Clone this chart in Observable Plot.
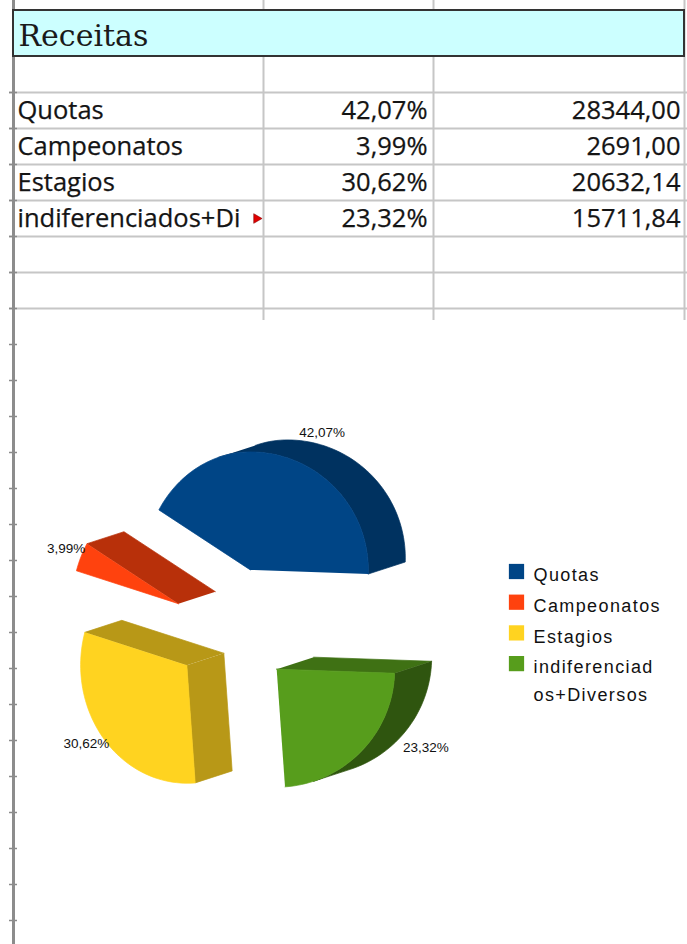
<!DOCTYPE html>
<html><head><meta charset="utf-8">
<script src="https://cdn.jsdelivr.net/npm/d3@7"></script>
<script src="https://cdn.jsdelivr.net/npm/@observablehq/plot@0.6"></script>
<style>html,body{margin:0;padding:0;background:#fff}svg{display:block}</style>
</head><body><div id="chart"></div>
<script>
// ---- data ----
const title = "Receitas";
const categories = ["Quotas", "Campeonatos", "Estagios", "indiferenciados+Diversos"];
const percents = [42.07, 3.99, 30.62, 23.32];
const amounts = [28344.00, 2691.00, 20632.14, 15711.84];
const colors = ["#004586", "#ff420e", "#ffd320", "#579d1c"];

// ---- formatting ----
const loc = d3.formatLocale({decimal: ",", thousands: "", grouping: [3], currency: ["", ""]});
const f2 = loc.format(".2f");

// ---- layout ----
const W = 687, H = 944;
const colX = [13, 263, 433, 684];
const headerTop = 10, headerBottom = 56, rowH = 36;
const gridBottom = 320;
const rowLines = d3.range(7).map(k => headerBottom + rowH * (k + 1));
const leftTicks = d3.range(headerBottom + rowH, H, rowH);

const rows = categories.map((c, i) => ({
  cy: headerBottom + rowH * (i + 1) + rowH / 2,
  label: c.length > 18 ? c.slice(0, 18) : c,
  truncated: c.length > 18,
  pct: f2(percents[i]) + "%",
  amt: f2(amounts[i])
}));

// ---- pie geometry (exploded 3D pie) ----
const C = [233, 627], R = 118, explode = 60, depth = [37, -12], startDeg = 2, kLeft = 0.9;
const rad = d => d * Math.PI / 180;
const total = d3.sum(amounts);
let acc = startDeg;
const slices = amounts.map((v, i) => {
  const span = v / total * 360;
  const a2 = acc, a1 = acc - span; acc = a1;
  const m = (a1 + a2) / 2;
  const apex = [C[0] + explode * Math.cos(rad(m)), C[1] + explode * Math.sin(rad(m))];
  return {i, a1, a2, m, apex};
});
const offs = (a, r) => { const c = Math.cos(rad(a)); return [r * c * (c < 0 ? kLeft : 1), r * Math.sin(rad(a))]; };
const shade = (c, f) => { const r = d3.rgb(c); return d3.rgb(r.r * f, r.g * f, r.b * f).formatHex(); };
const polys = []; let pid = 0;
function addPoly(pts, color) { const id = pid++; for (const [x, y] of pts) polys.push({id, x, y, color}); }
for (const s of slices) {
  const col = colors[s.i];
  const P = a => { const o = offs(a, R); return [s.apex[0] + o[0], s.apex[1] + o[1]]; };
  const E = p => [p[0] + depth[0], p[1] + depth[1]];
  const dotE = a => Math.cos(rad(a)) * depth[0] + Math.sin(rad(a)) * depth[1];
  [[s.a1, s.a1 - 90], [s.a2, s.a2 + 90]].forEach(([a, n]) => {
    if (dotE(n) > 0) { const p = P(a); addPoly([s.apex, p, E(p), E(s.apex)], shade(col, 0.72)); }
  });
  const N = Math.max(8, Math.ceil((s.a2 - s.a1) / 2));
  let run = [];
  const flush = () => {
    if (run.length > 1) {
      const midA = (run[0] + run[run.length - 1]) / 2;
      const f = 0.72 - 0.3 * Math.max(0, Math.sin(rad(midA)));
      addPoly([...run.map(P), ...run.slice().reverse().map(a => E(P(a)))], shade(col, f));
    }
    run = [];
  };
  for (let k = 0; k < N; k++) {
    const t0 = s.a1 + (s.a2 - s.a1) * k / N, t1 = s.a1 + (s.a2 - s.a1) * (k + 1) / N;
    if (dotE((t0 + t1) / 2) > 0) { if (!run.length) run.push(t0); run.push(t1); } else flush();
  }
  flush();
  const arc = d3.range(N + 1).map(k => P(s.a1 + (s.a2 - s.a1) * k / N));
  addPoly([s.apex, ...arc], col);
}
// data labels: outside the slice, on the visible (front or back) rim
const pieLabels = slices.map(s => {
  const c = Math.cos(rad(s.m)), sn = Math.sin(rad(s.m));
  const back = c * depth[0] + sn * depth[1] > 0 ? 1 : 0.25;
  const o = offs(s.m, R + 6);
  return {
    x: s.apex[0] + depth[0] * back + o[0],
    y: s.apex[1] + depth[1] * back + o[1] + sn * 6,
    anchor: c > 0.3 ? "start" : c < -0.3 ? "end" : "middle",
    text: f2(percents[s.i]) + "%"
  };
});

// ---- legend ----
const legX = 516, legY0 = 571, legStep = 30.7;
const legendSq = categories.map((c, i) => ({x: legX, y: legY0 + i * legStep, color: colors[i]}));
const legendText = [];
categories.forEach((c, i) => {
  const lines = c.length > 13 ? [c.slice(0, 13), c.slice(13)] : [c];
  lines.forEach((t, j) => legendText.push({x: legX + 17, y: legY0 + i * legStep + 4 + j * 28, text: t}));
});

const tableFont = "'Open Sans', 'Noto Sans', sans-serif";
const labelFont = "'Liberation Sans', Arial, sans-serif";
const cellStyle = {fontFamily: tableFont, fontSize: 25.5, fill: "#141414", stroke: "#141414", strokeWidth: 0.25};
const pieLabelMarks = ["start", "middle", "end"].map(a =>
  Plot.text(pieLabels.filter(d => d.anchor === a), {x: "x", y: "y", text: "text", textAnchor: a, fontFamily: labelFont, fontSize: 13.5, fill: "#111"}));
const plot = Plot.plot({
  width: W, height: H, margin: 0,
  x: {type: "identity", axis: null},
  y: {type: "identity", axis: null},
  color: {type: "identity"},
  style: {background: "#fff"},
  marks: [
    // spreadsheet grid
    Plot.ruleX(colX.slice(1), {x: d => d, y1: () => 0, y2: () => gridBottom, stroke: "#c6c6c6", strokeWidth: 2}),
    Plot.ruleY(rowLines, {y: d => d, x1: () => 9, x2: () => W, stroke: "#c6c6c6", strokeWidth: 2}),
    Plot.ruleY(leftTicks, {y: d => d, x1: () => 9, x2: () => 17, stroke: "#8a8a8a", strokeWidth: 1.5}),
    Plot.ruleX([colX[0]], {x: d => d, y1: () => 0, y2: () => H, stroke: "#8c8c8c", strokeWidth: 3}),
    // header
    Plot.rect([title], {x1: () => colX[0], x2: () => colX[3], y1: () => headerTop, y2: () => headerBottom, fill: "#ccffff", stroke: "#333", strokeWidth: 2}),
    Plot.text([title], {x: () => colX[0] + 5, y: () => (headerTop + headerBottom) / 2 + 3, text: d => d, textAnchor: "start", fontFamily: "'DejaVu Serif', serif", fontSize: 30, fill: "#1a1a1a"}),
    // table cells
    Plot.text(rows, {x: () => colX[0] + 4, y: "cy", text: "label", textAnchor: "start", ...cellStyle}),
    Plot.text(rows, {x: () => colX[2] - 6, y: "cy", text: "pct", textAnchor: "end", ...cellStyle}),
    Plot.text(rows, {x: () => colX[3] - 4, y: "cy", text: "amt", textAnchor: "end", ...cellStyle}),
    Plot.dot(rows.filter(d => d.truncated), {x: () => colX[1] - 7, y: d => d.cy, symbol: "triangle", rotate: 90, r: 3.6, fill: "#e00000", stroke: "#700", strokeWidth: 0.5}),
    // pie
    Plot.line(polys, {x: "x", y: "y", z: "id", fill: "color", stroke: "color", strokeWidth: 0.7, curve: "linear"}),
    ...pieLabelMarks,
    // legend
    Plot.dot(legendSq, {x: "x", y: "y", symbol: "square", r: 8.6, fill: "color"}),
    Plot.text(legendText, {x: "x", y: "y", text: "text", textAnchor: "start", fontFamily: labelFont, fontSize: 18, fill: "#111"})
  ]
});
d3.select(plot).selectAll('g[font-size="18"]').attr("letter-spacing", "1.4");
document.getElementById("chart").appendChild(plot);
</script>
</body></html>
